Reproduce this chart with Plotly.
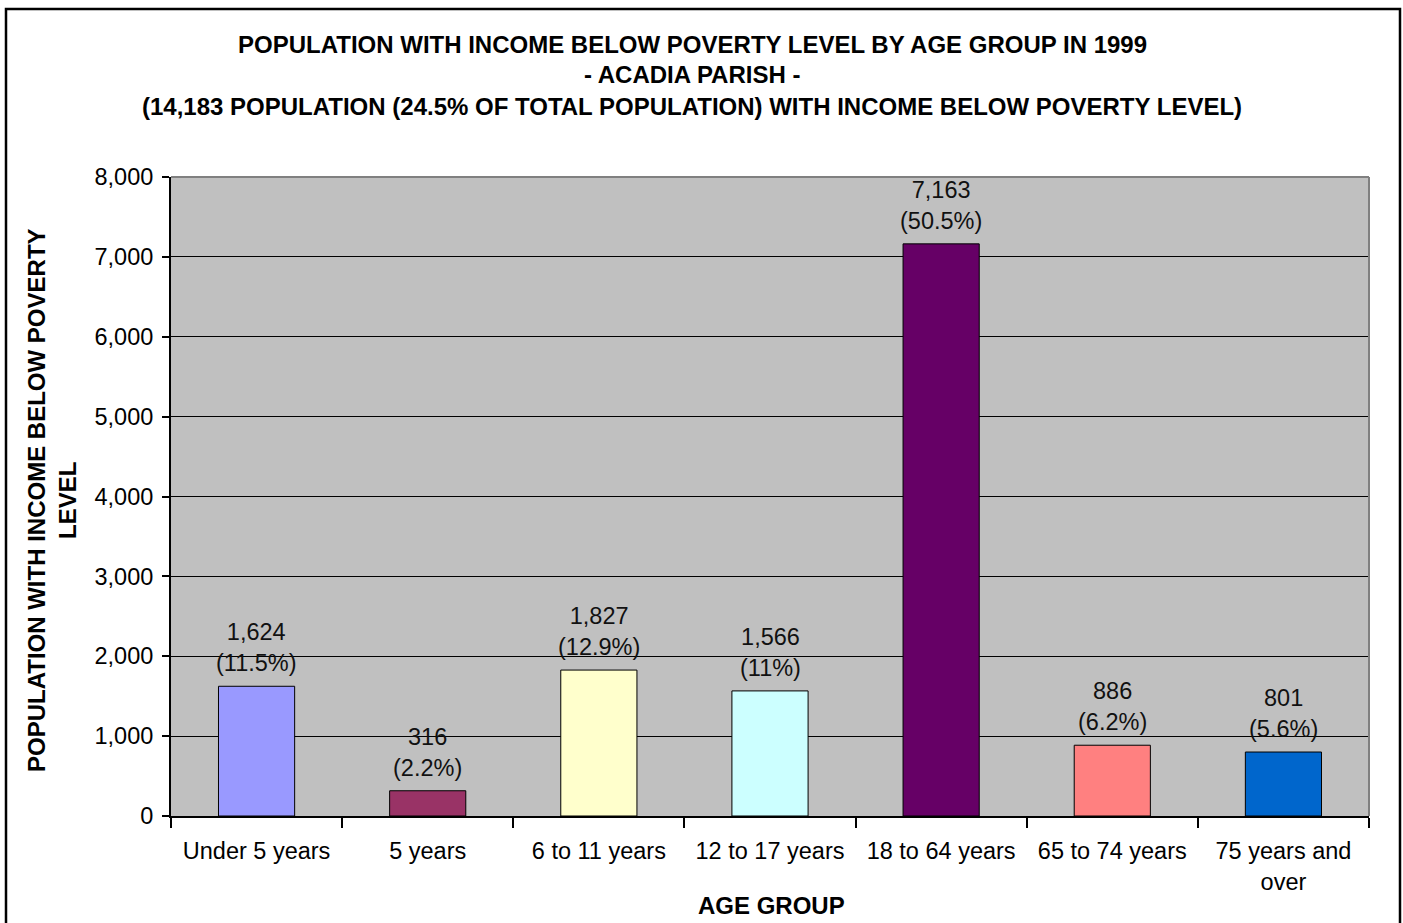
import plotly.graph_objects as go

categories = ["Under 5 years", "5 years", "6 to 11 years", "12 to 17 years",
              "18 to 64 years", "65 to 74 years", "75 years and<br>over"]
values = [1624, 316, 1827, 1566, 7163, 886, 801]
percents = ["11.5%", "2.2%", "12.9%", "11%", "50.5%", "6.2%", "5.6%"]
colors = ["#9999FF", "#993366", "#FFFFCC", "#CCFFFF", "#660066", "#FF8080", "#0066CC"]
y_ticks = [0, 1000, 2000, 3000, 4000, 5000, 6000, 7000, 8000]

FONT = "Arial, Liberation Sans, sans-serif"
TXT = 23.5
BOLD = 24

W, H = 1403, 923
L, R, T, B = 171, 1369, 177, 816
pw, ph = R - L, B - T

def px_x(x):
    return (x - L) / pw

def px_y(y):
    return (B - y) / ph

fig = go.Figure(go.Bar(
    x=categories, y=values,
    marker=dict(color=colors, line=dict(color="black", width=1)),
    width=0.445, hoverinfo="x+y",
))

fig.update_layout(
    width=W, height=H,
    margin=dict(l=L, r=W - R, t=T, b=H - B, pad=0),
    paper_bgcolor="white", plot_bgcolor="#C0C0C0",
    showlegend=False,
    font=dict(family=FONT, size=TXT, color="black"),
)
fig.update_xaxes(
    showline=True, linecolor="black", linewidth=2,
    ticks="outside", tickson="boundaries", ticklen=10, tickwidth=2, tickcolor="black",
    tickfont=dict(family=FONT, size=TXT, color="black"),
    ticklabelstandoff=13,
    showgrid=False,
)
fig.update_yaxes(
    range=[0, 8000], tickvals=y_ticks, tickformat=",",
    showline=True, linecolor="black", linewidth=2,
    ticks="outside", ticklen=7, tickwidth=2, tickcolor="black",
    tickfont=dict(family=FONT, size=TXT, color="black"),
    ticklabelstandoff=4,
    showgrid=True, gridcolor="black", gridwidth=1, zeroline=False,
)

shapes = [
    dict(type="line", xref="paper", yref="paper", x0=0, x1=1, y0=1, y1=1,
         line=dict(color="#808080", width=2), layer="above"),
    dict(type="line", xref="paper", yref="paper", x0=1, x1=1, y0=0, y1=1,
         line=dict(color="#808080", width=2), layer="above"),
    dict(type="rect", xref="paper", yref="paper",
         x0=px_x(6), x1=px_x(1400), y0=px_y(935), y1=px_y(9),
         line=dict(color="black", width=2.5), layer="above"),
]
fig.update_layout(shapes=shapes)

ann = []
# data labels
for c, v, p in zip(categories, values, percents):
    ann.append(dict(text=f"{v:,}<br>({p})", x=c, y=v, xref="x", yref="y",
                    showarrow=False, xanchor="center", yanchor="bottom", yshift=8,
                    font=dict(family=FONT, size=TXT, color="#111")))

title_lines = [
    ("POPULATION WITH INCOME BELOW POVERTY LEVEL BY AGE GROUP IN 1999", 45),
    ("- ACADIA PARISH -", 75),
    ("(14,183 POPULATION (24.5% OF TOTAL POPULATION) WITH INCOME BELOW POVERTY LEVEL)", 107),
]
for txt, yy in title_lines:
    ann.append(dict(text=f"<b>{txt}</b>", xref="paper", yref="paper",
                    x=px_x(692), y=px_y(yy), showarrow=False,
                    xanchor="center", yanchor="middle",
                    font=dict(family=FONT, size=BOLD, color="black")))
ann.append(dict(text="<b>AGE GROUP</b>", xref="paper", yref="paper",
                x=px_x(771), y=px_y(905), showarrow=False,
                xanchor="center", yanchor="middle",
                font=dict(family=FONT, size=BOLD, color="black")))
ann.append(dict(text="<b>POPULATION WITH INCOME BELOW POVERTY<br>LEVEL</b>",
                xref="paper", yref="paper", x=px_x(52), y=px_y(500),
                showarrow=False, textangle=-90, xanchor="center", yanchor="middle",
                font=dict(family=FONT, size=BOLD, color="black")))
fig.update_layout(annotations=ann)

fig.write_html("out.html", config={"displayModeBar": False},
               post_script="document.body.style.margin='0';document.body.style.overflow='hidden';")
